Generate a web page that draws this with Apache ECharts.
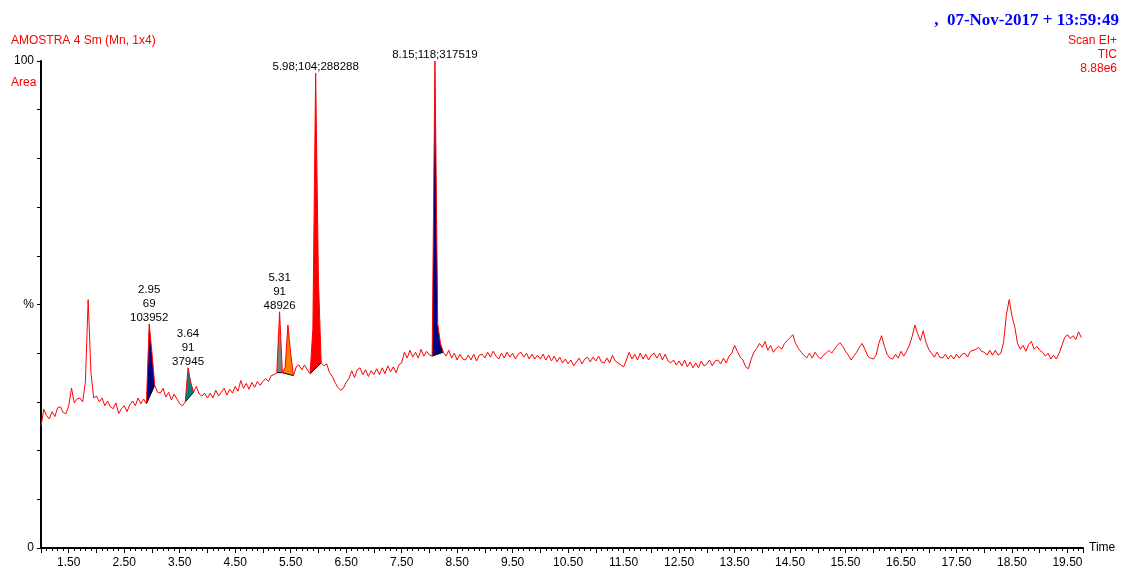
<!DOCTYPE html>
<html>
<head>
<meta charset="utf-8">
<script src="https://cdn.jsdelivr.net/npm/echarts@6/dist/echarts.min.js"></script>
<style>
html,body{margin:0;padding:0;background:#fff;}
#chart{width:1121px;height:569px;}
</style>
</head>
<body>
<div id="chart"></div>
<script>
// ---- data (retention time in minutes, TIC in % of 8.88e6) ----
const scanStart = 1.0;
const scanStep = 0.05;
const ticPct = [
  // 1.00 - 1.95
  25.0, 28.5, 27.2, 26.5, 28.0, 27.0, 28.8, 29.0, 27.8, 27.6, 29.2, 32.8, 29.8, 30.6, 30.8, 30.0, 34.0, 51.0, 36.0, 30.8,
  // 2.00 - 2.95
  31.2, 30.0, 30.8, 29.2, 30.2, 29.0, 28.6, 29.8, 27.6, 28.6, 29.2, 28.0, 29.4, 30.2, 29.2, 30.8, 29.6, 30.6, 29.6, 46.0,
  // 3.00 - 3.95
  40.0, 33.4, 32.0, 31.8, 32.8, 31.0, 32.0, 30.4, 31.6, 30.6, 29.6, 29.2, 30.0, 37.0, 34.0, 32.0, 33.2, 31.6, 31.2, 31.8,
  // 4.00 - 4.95
  30.8, 31.8, 30.8, 32.4, 31.2, 32.0, 32.8, 31.4, 32.6, 31.8, 33.2, 32.2, 34.4, 32.8, 33.8, 32.6, 34.0, 33.0, 34.2, 33.4,
  // 5.00 - 5.95
  34.2, 34.8, 34.2, 35.4, 35.6, 36.0, 48.5, 36.0, 37.0, 45.8, 40.0, 35.4, 37.2, 37.6, 36.6, 37.6, 36.6, 35.8, 45.0, 97.5,
  // 6.00 - 6.95
  55.0, 38.0, 37.4, 37.8, 36.0, 35.2, 34.0, 33.0, 32.4, 32.8, 34.0, 34.8, 36.4, 35.0, 36.6, 37.0, 35.6, 36.6, 35.2, 36.4,
  // 7.00 - 7.95
  35.6, 36.8, 35.6, 37.0, 35.8, 37.4, 36.2, 37.2, 36.0, 37.6, 38.0, 40.2, 39.0, 40.6, 39.2, 40.2, 39.0, 40.8, 39.4, 40.4,
  // 8.00 - 8.95
  39.6, 39.4, 100.0, 46.0, 42.0, 40.2, 39.4, 40.6, 39.0, 40.0, 38.6, 39.8, 38.8, 38.6, 39.6, 38.6, 39.8, 38.4, 39.6, 39.8,
  // 9.00 - 9.95
  39.0, 40.2, 39.2, 40.4, 39.4, 38.8, 40.0, 39.0, 40.2, 39.2, 40.0, 38.8, 39.8, 40.2, 39.2, 40.0, 38.8, 39.8, 38.8, 39.6,
  // 10.00 - 10.95
  38.8, 39.8, 38.6, 39.6, 38.4, 39.4, 38.2, 39.2, 38.0, 38.8, 37.8, 38.6, 37.4, 38.2, 39.0, 37.8, 38.8, 39.2, 38.2, 39.2,
  // 11.00 - 11.95
  38.4, 39.4, 38.2, 38.0, 39.0, 38.0, 39.6, 38.4, 38.0, 37.6, 37.2, 38.6, 40.2, 38.8, 39.8, 38.6, 40.0, 38.8, 39.8, 38.6,
  // 12.00 - 12.95
  39.6, 40.0, 39.0, 40.0, 38.6, 39.8, 38.4, 38.0, 38.6, 37.6, 38.4, 37.4, 38.6, 37.2, 38.2, 37.0, 38.0, 37.0, 38.4, 37.4,
  // 13.00 - 13.95
  37.8, 38.6, 37.4, 38.4, 38.6, 37.8, 39.0, 38.0, 39.4, 40.0, 41.6, 40.4, 39.2, 38.6, 37.2, 36.8, 38.8, 40.2, 41.0, 42.0,
  // 14.00 - 14.95
  41.2, 42.4, 40.6, 41.6, 40.2, 41.0, 41.4, 40.8, 42.0, 42.6, 43.2, 43.8, 42.0, 41.0, 40.2, 39.6, 39.0, 40.0, 39.0, 40.2,
  // 15.00 - 15.95
  39.4, 38.8, 39.6, 40.0, 40.6, 40.0, 40.8, 41.6, 42.2, 41.4, 40.4, 39.6, 38.6, 39.4, 40.2, 41.2, 42.0, 40.8, 39.4, 39.0,
  // 16.00 - 16.95
  38.8, 39.6, 42.0, 43.6, 41.4, 39.8, 39.0, 38.8, 39.8, 39.0, 40.4, 39.4, 40.4, 41.6, 43.4, 45.8, 44.0, 42.6, 44.6, 42.2,
  // 17.00 - 17.95
  40.8, 40.0, 39.2, 40.2, 39.2, 39.0, 39.8, 38.8, 39.6, 38.8, 39.8, 39.0, 39.8, 40.0, 39.2, 40.4, 40.6, 40.8, 41.2, 40.4,
  // 18.00 - 18.95
  40.2, 39.6, 40.6, 39.6, 40.6, 39.6, 40.0, 42.4, 48.0, 51.0, 47.6, 45.4, 42.0, 40.8, 41.6, 40.4, 41.8, 42.4, 40.8, 41.4,
  // 19.00 - 19.75
  40.6, 40.2, 39.4, 40.0, 38.8, 39.6, 38.8, 40.0, 41.6, 43.2, 43.8, 43.0, 43.6, 42.8, 44.4, 43.2
];

// integrated peaks
const peakStart = [2.90, 3.60, 5.25, 5.35, 5.85, 8.05];
const peakEnd   = [3.05, 3.75, 5.35, 5.55, 6.05, 8.25];
const peakLabel = ['2.95\n69\n103952', '3.64\n91\n37945', '5.31\n91\n48926', '', '5.98;104;288288', '8.15;118;317519'];

// x tick labels shown (minutes)
const xTickLabels = [1.5, 2.5, 3.5, 4.5, 5.5, 6.5, 7.5, 8.5, 9.5, 10.5, 11.5, 12.5, 13.5, 14.5, 15.5, 16.5, 17.5, 18.5, 19.5];
// y tick labels
const yTickLabels = { 0: '0', 50: '%', 100: '100' };

// styles
const peakFill = ['#000080', '#008080', '#808080', '#FF8000', '#FF0000', '#000080'];
const FONT = '"Liberation Sans", Arial, sans-serif';

const rt = ticPct.map((_, i) => Math.round((scanStart + i * scanStep) * 100) / 100);
const traceData = ticPct.map((v, i) => [rt[i], v]);

const chart = echarts.init(document.getElementById('chart'), null, { renderer: 'canvas' });

function renderPeak(params, api) {
  const k = params.dataIndex;
  const s = peakStart[k], e = peakEnd[k];
  const pts = [];
  let apex = null, apexV = -1;
  for (let i = 0; i < rt.length; i++) {
    if (rt[i] >= s - 1e-9 && rt[i] <= e + 1e-9) {
      const p = api.coord([rt[i], ticPct[i]]);
      pts.push(p);
      if (ticPct[i] > apexV) { apexV = ticPct[i]; apex = p; }
    }
  }
  const children = [
    { type: 'polygon', shape: { points: pts }, style: { fill: peakFill[k], stroke: null } },
    { type: 'polyline', shape: { points: [pts[0], pts[pts.length - 1]] }, style: { stroke: '#000', lineWidth: 1, fill: null } }
  ];
  if (peakLabel[k]) {
    children.push({
      type: 'text', x: apex[0], y: apex[1] + 1,
      style: { text: peakLabel[k], fill: '#000', font: '11.5px ' + FONT, align: 'center', verticalAlign: 'bottom', lineHeight: 14 }
    });
  }
  return { type: 'group', children };
}

const option = {
  animation: false,
  backgroundColor: '#fff',
  grid: { left: 41, right: 38, top: 61, bottom: 21, containLabel: false },
  xAxis: {
    type: 'value', min: 1, max: 19.78, interval: 0.5,
    axisLine: { show: true, onZero: false, lineStyle: { color: '#000', width: 2 } },
    axisTick: { show: true, inside: false, length: 5, lineStyle: { color: '#000', width: 1 } },
    minorTick: { show: true, splitNumber: 5, length: 3, lineStyle: { color: '#000', width: 1 } },
    splitLine: { show: false },
    axisLabel: {
      show: true, margin: 9, color: '#000', fontSize: 12, fontFamily: FONT,
      showMinLabel: false, showMaxLabel: false,
      formatter: v => xTickLabels.some(t => Math.abs(t - v) < 1e-6) ? v.toFixed(2) : ''
    },
    name: 'Time', nameLocation: 'end', nameGap: 6,
    nameTextStyle: { color: '#000', fontSize: 12, fontFamily: FONT, verticalAlign: 'middle' }
  },
  yAxis: {
    type: 'value', min: 0, max: 100, interval: 10,
    axisLine: { show: true, lineStyle: { color: '#000', width: 2 } },
    axisTick: { show: true, inside: false, length: 4, lineStyle: { color: '#000', width: 1 } },
    splitLine: { show: false },
    axisLabel: {
      show: true, margin: 7, color: '#000', fontSize: 12, fontFamily: FONT,
      formatter: v => (yTickLabels[v] !== undefined ? yTickLabels[v] : '')
    }
  },
  graphic: [
    { type: 'text', x: 11, y: 41, style: { text: 'AMOSTRA 4 Sm (Mn, 1x4)', fill: '#FF0000', font: '12px ' + FONT, align: 'left', verticalAlign: 'middle' } },
    { type: 'text', x: 11, y: 83, style: { text: 'Area', fill: '#FF0000', font: '12px ' + FONT, align: 'left', verticalAlign: 'middle' } },
    { type: 'text', x: 1119, y: 21, style: { text: ',  07-Nov-2017 + 13:59:49', fill: '#0000FF', font: 'bold 17px "Liberation Serif", "Times New Roman", serif', align: 'right', verticalAlign: 'middle' } },
    { type: 'text', x: 1117, y: 41, style: { text: 'Scan EI+', fill: '#FF0000', font: '12px ' + FONT, align: 'right', verticalAlign: 'middle' } },
    { type: 'text', x: 1117, y: 55, style: { text: 'TIC', fill: '#FF0000', font: '12px ' + FONT, align: 'right', verticalAlign: 'middle' } },
    { type: 'text', x: 1117, y: 69, style: { text: '8.88e6', fill: '#FF0000', font: '12px ' + FONT, align: 'right', verticalAlign: 'middle' } }
  ],
  series: [
    {
      type: 'custom', coordinateSystem: 'cartesian2d', clip: false, z: 2,
      renderItem: renderPeak,
      encode: { x: 0, y: 1 },
      data: peakStart.map((s, k) => [s, 0, k]),
      silent: true
    },
    {
      type: 'line', data: traceData, showSymbol: false, symbol: 'none', z: 3,
      lineStyle: { color: '#FF0000', width: 1 }, silent: true
    }
  ]
};
chart.setOption(option);
</script>
</body>
</html>
